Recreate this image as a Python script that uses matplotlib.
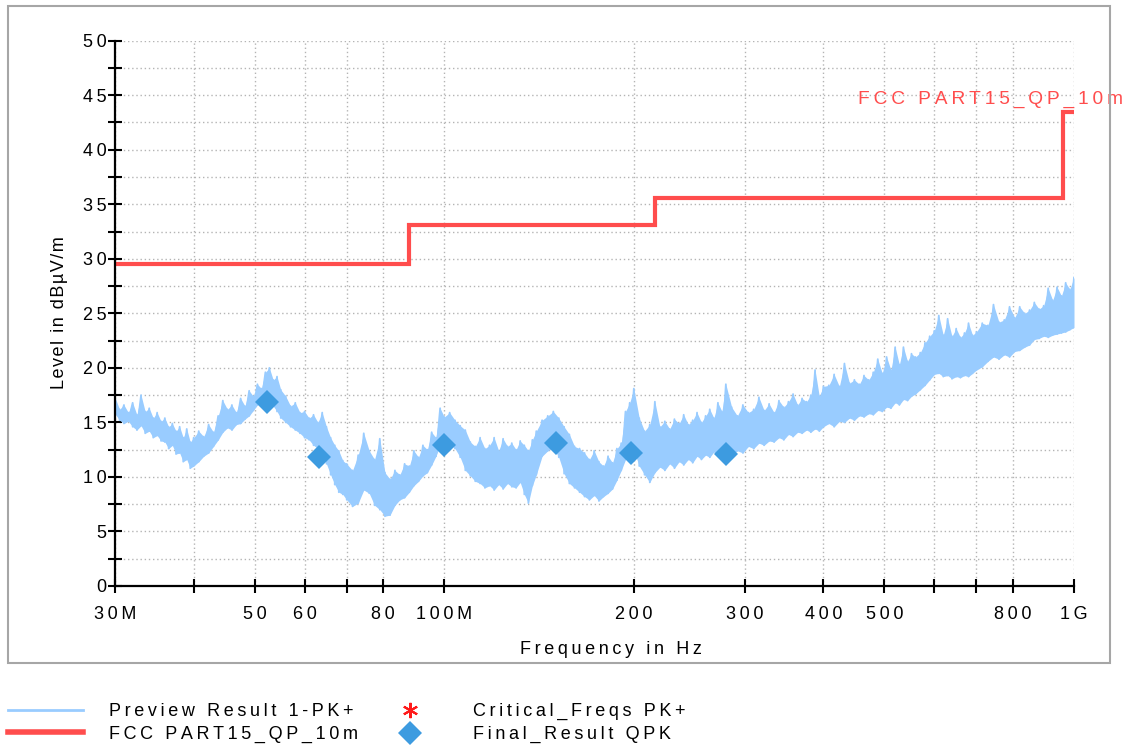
import numpy as np
import matplotlib
matplotlib.use("Agg")
import matplotlib.pyplot as plt
import matplotlib.transforms as mtransforms
from matplotlib.lines import Line2D
from matplotlib.patches import Rectangle
from matplotlib.ticker import FixedLocator, FixedFormatter

plt.rcParams['font.family'] = ['Liberation Sans', 'DejaVu Sans']

# ---------------------------------------------------------------- data
# Preview sweep (peak detector): lower / upper level of the trace per frequency
preview_freq_mhz = [
    30, 30.5, 31, 31.5, 32, 32.5, 33, 33.5, 34, 34.5, 35, 35.5, 36, 36.5, 37,
    37.5, 38, 38.5, 39, 39.5, 40,
    40.75, 41.5, 42.25, 43, 43.75, 44.5, 45.25, 46, 46.75, 47.5, 48.25, 49,
    49.75, 50.5, 51.25, 52, 52.75, 53.5, 54.25, 55,
    56, 57, 58, 59, 60, 61, 62, 63, 64, 65, 66, 67, 68, 69, 70,
    71.5, 73, 74.5, 76, 77.5, 79, 80.5, 82, 83.5, 85, 86.5, 88, 89.5, 91, 92.5,
    94, 95.5, 97, 98.5, 100,
    102, 104, 106, 108, 110, 112, 114, 116, 118, 120, 122, 124, 126, 128, 130,
    132, 134, 136, 138, 140,
    143, 146, 149, 152, 155, 158, 161, 164, 167, 170, 173, 176, 179, 182, 185,
    188, 191, 194, 197, 200,
    204, 208, 212, 216, 220, 224, 228, 232, 236, 240, 244, 248, 252, 256, 260,
    264, 268, 272, 276, 280,
    286, 292, 298, 304, 310, 316, 322, 328, 334, 340, 346, 352, 358, 364, 370,
    376, 382, 388, 394, 400,
    408, 416, 424, 432, 440, 448, 456, 464, 472, 480, 488, 496, 504, 512, 520,
    528, 536, 544, 552, 560,
    570, 580, 590, 600, 610, 620, 630, 640, 650, 660, 670, 680, 690, 700,
    715, 730, 745, 760, 775, 790, 805, 820, 835, 850, 865, 880, 895, 910, 925,
    940, 955, 970, 985, 1000,
]
preview_high_db = [
    17.3, 16.2, 16.6, 15.9, 16.8, 15.7, 17.5, 16.0, 16.3, 15.4, 15.9, 15.1, 15.4,
    14.6, 14.9, 14.2, 14.6, 13.6, 14.4, 13.2, 13.6,
    14.2, 13.7, 14.8, 14.1, 15.6, 17.0, 16.2, 16.6, 15.9, 17.2, 16.5, 17.9, 17.4,
    18.5, 18.1, 19.6, 20.0, 18.9, 19.2, 18.0,
    17.4, 16.5, 16.8, 15.9, 16.0, 15.4, 15.7, 15.0, 15.9, 14.6, 13.6, 12.9, 12.4,
    11.5, 11.2,
    10.6, 12.0, 14.0, 12.4, 11.6, 13.5, 10.4, 9.8, 10.6, 10.2, 11.2, 11.0, 12.4,
    11.8, 12.9, 12.5, 14.1, 13.6, 16.3, 15.5,
    15.9, 15.2, 14.7, 14.3, 13.2, 12.8, 13.6, 12.6, 12.9, 13.6, 12.4, 13.5, 12.8,
    13.1, 12.5, 13.3, 12.9, 12.4, 13.4, 14.2,
    15.2, 15.6, 16.0, 15.4, 14.6, 13.9, 12.8, 12.6, 12.2, 11.6, 12.4, 11.4, 11.0,
    11.9, 11.3, 12.6, 13.1, 16.0, 16.8, 18.1,
    15.4, 14.2, 14.8, 16.9, 14.6, 15.1, 14.4, 15.3, 14.9, 15.7, 14.8, 15.2, 15.9,
    15.0, 15.6, 16.2, 15.4, 16.8, 16.0, 18.5,
    16.4, 15.6, 16.6, 15.9, 16.2, 17.3, 16.1, 16.7, 15.9, 17.0, 16.4, 16.9, 17.6,
    16.6, 17.2, 16.9, 17.5, 19.8, 17.4, 18.3,
    18.4, 19.4, 18.3, 20.4, 18.6, 18.9, 18.5, 19.3, 18.9, 19.6, 20.8, 19.5, 21.0,
    19.8, 21.9, 20.3, 21.9, 20.6, 21.3, 21.0,
    21.4, 22.3, 22.9, 23.4, 24.8, 23.0, 24.5, 22.9, 23.6, 22.8, 23.2, 24.1, 23.0,
    23.3,
    24.1, 23.9, 25.8, 24.2, 24.4, 25.6, 24.6, 25.6, 25.0, 25.3, 26.0, 25.4, 25.7,
    27.3, 26.2, 27.4, 26.6, 27.8, 27.2, 28.3,
]
preview_low_db = [
    15.8, 15.2, 14.9, 15.1, 14.6, 14.3, 14.7, 14.0, 14.2, 13.6, 13.8, 13.3, 13.2,
    12.6, 12.9, 12.1, 12.2, 11.4, 11.6, 10.8, 11.0,
    11.4, 11.9, 12.2, 12.8, 13.4, 14.1, 14.5, 14.3, 14.8, 14.9, 15.3, 15.6, 16.1,
    16.6, 16.9, 17.2, 16.8, 16.5, 16.0, 15.4,
    15.0, 14.6, 14.3, 14.0, 13.6, 13.4, 12.9, 12.6, 12.1, 11.2, 10.2, 9.3, 8.6,
    8.4, 7.9,
    7.3, 7.6, 8.8, 8.5, 7.4, 7.0, 6.4, 6.5, 7.4, 7.9, 8.1, 8.6, 9.2, 9.6, 10.1,
    10.4, 11.1, 11.9, 12.9, 13.1,
    13.0, 12.6, 11.8, 10.6, 10.1, 9.6, 9.4, 9.0, 9.2, 8.8, 9.3, 8.9, 9.4, 9.1,
    9.0, 9.5, 8.4, 7.6, 9.2, 10.2,
    11.9, 12.4, 12.7, 11.8, 10.3, 9.4, 9.0, 8.6, 8.2, 7.9, 8.3, 7.8, 8.2, 8.5,
    8.9, 9.7, 10.6, 11.6, 12.1, 12.4,
    11.0, 10.2, 9.5, 10.4, 10.9, 10.6, 11.2, 10.8, 11.4, 11.1, 11.6, 11.3, 11.9,
    11.6, 12.0, 11.8, 12.3, 11.9, 12.4, 12.6,
    12.0, 12.4, 12.2, 12.8, 12.6, 13.1, 12.9, 13.3, 13.2, 13.6, 13.4, 13.9, 13.7,
    14.1, 14.0, 14.3, 14.1, 14.4, 14.2, 14.6,
    14.9, 14.6, 15.1, 15.0, 15.4, 15.2, 15.6, 15.5, 15.8, 15.7, 16.1, 16.0, 16.4,
    16.3, 16.8, 16.6, 17.1, 17.0, 17.4, 17.6,
    18.0, 18.4, 18.9, 19.4, 19.5, 19.2, 19.3, 19.0, 19.2, 19.1, 19.3, 19.2, 19.5,
    19.8,
    20.1, 20.6, 21.0, 20.8, 21.2, 21.0, 21.5, 21.6, 21.9, 22.1, 22.6, 22.7, 22.9,
    22.8, 23.0, 23.1, 23.2, 23.3, 23.5, 23.7,
]

# FCC Part 15 class B limit at 10 m (quasi-peak), step starts
limit_freq_mhz = [30, 88, 216, 960, 1000]
limit_level_db = [29.5, 33.1, 35.6, 43.5, 43.5]

# Final measurement (quasi-peak)
final_freq_mhz = [52.3, 63.2, 99.9, 150.5, 198, 280]
final_level_db = [16.9, 11.8, 12.9, 13.1, 12.2, 12.1]

# Critical frequencies (peak) - none found
critical_freq_mhz = []
critical_level_db = []

xtick_mhz = [30, 40, 50, 60, 70, 80, 100, 200, 300, 400, 500, 600, 700, 800, 1000]
xtick_labels = ['30M', '', '50', '60', '', '80', '100M', '200', '300', '400',
                '500', '', '', '800', '1G']
ytick_major = [0, 5, 10, 15, 20, 25, 30, 35, 40, 45, 50]
ytick_minor = [2.5, 7.5, 12.5, 17.5, 22.5, 27.5, 32.5, 37.5, 42.5, 47.5]

# ---------------------------------------------------------------- style
PREVIEW = '#99CCFF'
LIMIT = '#FF4D4D'
FINAL = '#3D9BE0'
CRIT = '#FF1A1A'
GRID = '#B4B4B4'
FS = 13


def spaced(s, gap='\u2009'):
    """Open up the letter spacing of a label."""
    return gap.join(s)


W, H = 1136, 747
fig = plt.figure(figsize=(W / 100, H / 100), dpi=100)
ax = fig.add_axes([115 / W, 1 - 586 / H, (1074 - 115) / W, (586 - 40.7) / H])

ax.set_xscale('log')
ax.set_xlim(30e6, 1000e6)
ax.set_ylim(0, 50)

# preview trace: filled band plus zig-zag stroke between low/high readings
f = np.array(preview_freq_mhz) * 1e6
lo = np.array(preview_low_db)
hi = np.array(preview_high_db)
ax.fill_between(f, lo, hi, color=PREVIEW, lw=0, zorder=2)
zig_x = np.repeat(f, 2)
zig_y = np.column_stack([hi, lo]).ravel()
ax.plot(zig_x, zig_y, color=PREVIEW, lw=1.3, zorder=2)

# limit line
ax.step(np.array(limit_freq_mhz) * 1e6, limit_level_db, where='post',
        color=LIMIT, lw=3, zorder=3, solid_joinstyle='miter')
ax.text(1.051, 44.6, spaced('FCC PART15_QP_10m'), color=LIMIT, fontsize=13.8,
        ha='right', va='center', clip_on=False,
        transform=mtransforms.blended_transform_factory(ax.transAxes, ax.transData))

# final results and critical frequencies
ax.plot(np.array(final_freq_mhz) * 1e6, final_level_db, ls='none', marker='D',
        ms=12, color=FINAL, mew=0, zorder=4)
ax.plot(np.array(critical_freq_mhz) * 1e6, critical_level_db, ls='none',
        marker=(6, 2, 0), ms=10, color=CRIT, mew=1.5, zorder=4)

# axes, ticks, grid
for s in ('top', 'right'):
    ax.spines[s].set_visible(False)
for s in ('left', 'bottom'):
    ax.spines[s].set_linewidth(1.6)
    ax.spines[s].set_color('black')
    ax.spines[s].set_zorder(5)

ax.xaxis.set_major_locator(FixedLocator(np.array(xtick_mhz) * 1e6))
ax.xaxis.set_major_formatter(FixedFormatter([spaced(t) for t in xtick_labels]))
ax.xaxis.set_minor_locator(FixedLocator([]))
ax.yaxis.set_major_locator(FixedLocator(ytick_major))
ax.yaxis.set_major_formatter(FixedFormatter([spaced(str(v)) for v in ytick_major]))
ax.yaxis.set_minor_locator(FixedLocator(ytick_minor))

ax.tick_params(axis='both', which='both', direction='inout', length=10,
               width=1.5, color='black', labelsize=FS, labelcolor='black')
ax.tick_params(axis='x', pad=9.5)
ax.tick_params(axis='y', pad=1)
ax.grid(True, which='both', linestyle=(0, (1, 2)), color=GRID, lw=1.0)
ax.set_axisbelow(True)

# axis titles
fig.text(611 / W, 1 - 650 / H, spaced('Frequency in Hz'), fontsize=FS,
         ha='center', va='center')
fig.text(60 / W, 1 - 313 / H, spaced('Level in dBµV/m', '\u200a'), fontsize=FS,
         ha='center', va='center', rotation=90)

# outer frame
fig.patches.append(Rectangle((8 / W, 1 - 663 / H), (1110 - 8) / W, (663 - 6) / H,
                             transform=fig.transFigure, fill=False,
                             ec='#A6A6A6', lw=1.5))

# legend, two columns below the frame
h_prev = Line2D([], [], color=PREVIEW, lw=2)
h_lim = Line2D([], [], color=LIMIT, lw=4)
h_crit = Line2D([], [], ls='none', marker=(6, 2, 0), ms=11, color=CRIT, mew=1.5)
h_fin = Line2D([], [], ls='none', marker='D', ms=12, color=FINAL, mew=0)

common = dict(frameon=False, fontsize=FS, handlelength=75 / 18,
              handletextpad=26 / 18, borderpad=0, borderaxespad=0,
              labelspacing=0.32, loc='upper left')
fig.legend([h_prev, h_lim],
           [spaced('Preview Result 1-PK+'), spaced('FCC PART15_QP_10m')],
           bbox_to_anchor=(8 / W, 1 - 703 / H), **common)
fig.legend([h_crit, h_fin],
           [spaced('Critical_Freqs PK+'), spaced('Final_Result QPK')],
           bbox_to_anchor=(372 / W, 1 - 703 / H), **common)

fig.savefig('out.png', dpi=100, facecolor='white')
